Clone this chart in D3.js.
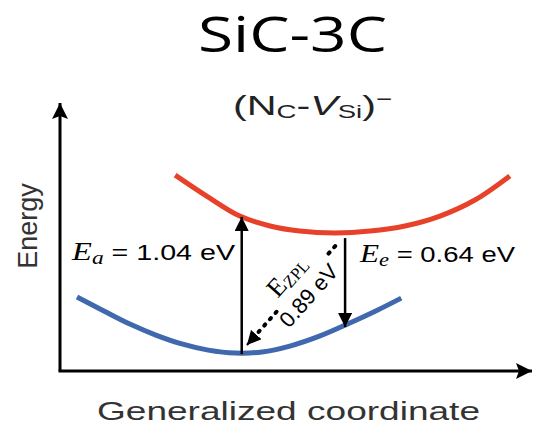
<!DOCTYPE html>
<html>
<head>
<meta charset="utf-8">
<script src="https://cdn.jsdelivr.net/npm/d3@7"></script>
<style>
  body { margin: 0; background: #fff; }
  svg { display: block; }
</style>
</head>
<body>
<script>
// configuration diagram values
// q = generalized coordinate (0..1), e = energy (0..1)
var redQ  = [0.244, 0.314, 0.381, 0.445, 0.508, 0.583, 0.657, 0.731, 0.805, 0.879, 0.953]
var redE  = [0.731, 0.649, 0.578, 0.541, 0.522, 0.515, 0.522, 0.541, 0.578, 0.638, 0.728]
var blueQ = [0.036, 0.093, 0.148, 0.203, 0.258, 0.314, 0.371, 0.428, 0.487, 0.551, 0.614, 0.669, 0.723]
var blueE = [0.276, 0.224, 0.175, 0.134, 0.101, 0.078, 0.067, 0.071, 0.093, 0.131, 0.179, 0.224, 0.272]

// transitions: absorption, emission and zero phonon line
var arrowNames = ['Ea', 'Ee', 'EZPL']
var arrowQ0 = [0.385, 0.604, 0.583]
var arrowE0 = [0.063, 0.496, 0.466]
var arrowQ1 = [0.385, 0.604, 0.396]
var arrowE1 = [0.575, 0.164, 0.097]
var arrowValues = ['1.04 eV', '0.64 eV', '0.89 eV']

var title = 'SiC-3C'
var xTitle = 'Generalized coordinate'
var yTitle = 'Energy'

var width = 534,
    height = 425;

var svg = d3.select("body")
  .append("svg")
  .attr("width", width)
  .attr("height", height)

var x = d3.scaleLinear().domain([0, 1]).range([60, 532]);
var y = d3.scaleLinear().domain([0, 1]).range([371, 103]);

// arrow heads
var defs = svg.append("defs")
defs.append("marker")
  .attr("id", "head")
  .attr("viewBox", "0 -7 14 14")
  .attr("refX", 14)
  .attr("refY", 0)
  .attr("markerUnits", "userSpaceOnUse")
  .attr("markerWidth", 14)
  .attr("markerHeight", 14)
  .attr("orient", "auto")
  .append("path")
  .attr("d", "M0,-7L14,0L0,7Z")
  .attr("fill", "#000")
defs.append("marker")
  .attr("id", "axhead")
  .attr("viewBox", "0 -8 16 16")
  .attr("refX", 16)
  .attr("refY", 0)
  .attr("markerUnits", "userSpaceOnUse")
  .attr("markerWidth", 16)
  .attr("markerHeight", 16)
  .attr("orient", "auto")
  .append("path")
  .attr("d", "M0,-8L16,0L0,8L3,0Z")
  .attr("fill", "#000")

// title
svg.append("text")
  .attr("x", 198)
  .attr("y", 52)
  .attr("textLength", 189)
  .attr("lengthAdjust", "spacingAndGlyphs")
  .style("font-family", "'Open Sans', sans-serif")
  .style("font-size", "50px")
  .text(title)

// axes
svg.append("line")
  .attr("x1", x(0)).attr("y1", y(0))
  .attr("x2", x(0)).attr("y2", y(1))
  .attr("stroke", "#000").attr("stroke-width", 3)
  .attr("marker-end", "url(#axhead)")
svg.append("line")
  .attr("x1", x(0) - 1.5).attr("y1", y(0))
  .attr("x2", x(1)).attr("y2", y(0))
  .attr("stroke", "#000").attr("stroke-width", 3)
  .attr("marker-end", "url(#axhead)")

svg.append("text")
  .attr("x", 97)
  .attr("y", 420)
  .attr("textLength", 383)
  .attr("lengthAdjust", "spacingAndGlyphs")
  .attr("fill", "#333")
  .style("font-family", "'Liberation Sans', Arial, sans-serif")
  .style("font-size", "26px")
  .text(xTitle)

svg.append("text")
  .attr("transform", "translate(37,226) rotate(-90)")
  .attr("text-anchor", "middle")
  .attr("fill", "#333")
  .style("font-family", "'Liberation Sans', Arial, sans-serif")
  .style("font-size", "27px")
  .text(yTitle)

// defect label (NC-VSi)-
var lab = svg.append("text")
  .attr("x", 233)
  .attr("y", 115)
  .attr("textLength", 159)
  .attr("lengthAdjust", "spacingAndGlyphs")
  .attr("fill", "#222")
  .style("font-family", "'Liberation Sans', Arial, sans-serif")
  .style("font-size", "27px")
lab.append("tspan").text("(N")
lab.append("tspan").attr("dy", 3).style("font-size", "18px").text("C")
lab.append("tspan").attr("dy", -3).text("-")
lab.append("tspan").style("font-style", "italic").text("V")
lab.append("tspan").attr("dy", 3).style("font-size", "18px").text("Si")
lab.append("tspan").attr("dy", -3).text(")")
lab.append("tspan").attr("dy", -10).style("font-size", "18px").text("\u2212")

// potential energy curves
var line = d3.line()
  .x(function(d) { return x(d[0]); })
  .y(function(d) { return y(d[1]); })
  .curve(d3.curveCatmullRom)

svg.append("path")
  .datum(d3.zip(redQ, redE))
  .attr("d", line)
  .attr("fill", "none")
  .attr("stroke", "#e8412a")
  .attr("stroke-width", 5)

svg.append("path")
  .datum(d3.zip(blueQ, blueE))
  .attr("d", line)
  .attr("fill", "none")
  .attr("stroke", "#3f68ad")
  .attr("stroke-width", 5)

// vertical transitions (solid)
for (var i = 0; i < 2; i++) {
  svg.append("line")
    .attr("x1", x(arrowQ0[i])).attr("y1", y(arrowE0[i]))
    .attr("x2", x(arrowQ1[i])).attr("y2", y(arrowE1[i]))
    .attr("stroke", "#000").attr("stroke-width", 2.5)
    .attr("marker-end", "url(#head)")
}

// zero phonon line, dotted with a gap for the labels
var zx0 = x(arrowQ0[2]), zy0 = y(arrowE0[2]),
    zx1 = x(arrowQ1[2]), zy1 = y(arrowE1[2]);
var zLen = Math.hypot(zx1 - zx0, zy1 - zy0)
var ux = (zx1 - zx0) / zLen, uy = (zy1 - zy0) / zLen
function along(t) { return [zx0 + ux * t, zy0 + uy * t]; }
var segs = [[0, 14], [88, zLen - 12]]
segs.forEach(function(s) {
  var a = along(s[0]), b = along(s[1])
  svg.append("line")
    .attr("x1", a[0]).attr("y1", a[1])
    .attr("x2", b[0]).attr("y2", b[1])
    .attr("stroke", "#000").attr("stroke-width", 4)
    .attr("stroke-linecap", "round")
    .attr("stroke-dasharray", "1.5,7")
})
var hb = along(zLen - 13)
svg.append("line")
  .attr("x1", hb[0]).attr("y1", hb[1])
  .attr("x2", zx1).attr("y2", zy1)
  .attr("stroke", "#000").attr("stroke-width", 2)
  .attr("marker-end", "url(#head)")

// transition labels
var ea = svg.append("text")
  .attr("x", 72)
  .attr("y", 260)
  .attr("textLength", 163)
  .attr("lengthAdjust", "spacingAndGlyphs")
  .style("font-family", "'Liberation Sans', Arial, sans-serif")
  .style("font-size", "22px")
ea.append("tspan").style("font-family", "'Liberation Serif', serif").style("font-style", "italic").style("font-size", "25px").text("E")
ea.append("tspan").attr("dy", 4).style("font-family", "'Liberation Serif', serif").style("font-style", "italic").style("font-size", "18px").text("a")
ea.append("tspan").attr("dy", -4).text(" = " + arrowValues[0])

var ee = svg.append("text")
  .attr("x", 360)
  .attr("y", 262)
  .attr("textLength", 155)
  .attr("lengthAdjust", "spacingAndGlyphs")
  .style("font-family", "'Liberation Sans', Arial, sans-serif")
  .style("font-size", "22px")
ee.append("tspan").style("font-family", "'Liberation Serif', serif").style("font-style", "italic").style("font-size", "25px").text("E")
ee.append("tspan").attr("dy", 4).style("font-family", "'Liberation Serif', serif").style("font-style", "italic").style("font-size", "18px").text("e")
ee.append("tspan").attr("dy", -4).text(" = " + arrowValues[1])

// rotated labels along the zero phonon line
var ang = Math.atan2(zy0 - zy1, zx0 - zx1) * 180 / Math.PI
var mid = along(zLen - 78)
var ez = svg.append("text")
  .attr("transform", "translate(" + (mid[0] - 0.743 * 17) + "," + (mid[1] - 0.669 * 17) + ") rotate(" + ang + ")")
  .attr("text-anchor", "middle")
  .attr("dy", "0.35em")
  .attr("textLength", 46)
  .attr("lengthAdjust", "spacingAndGlyphs")
  .style("font-family", "'Liberation Serif', serif")
  .style("font-size", "26px")
ez.append("tspan").text("E")
ez.append("tspan").attr("dy", 3).style("font-size", "17px").text("ZPL")

svg.append("text")
  .attr("transform", "translate(" + (mid[0] + 0.743 * 13) + "," + (mid[1] + 0.669 * 13) + ") rotate(" + ang + ")")
  .attr("text-anchor", "middle")
  .attr("dy", "0.35em")
  .style("font-family", "'Liberation Sans', Arial, sans-serif")
  .style("font-size", "22px")
  .text(arrowValues[2])
</script>
</body>
</html>
